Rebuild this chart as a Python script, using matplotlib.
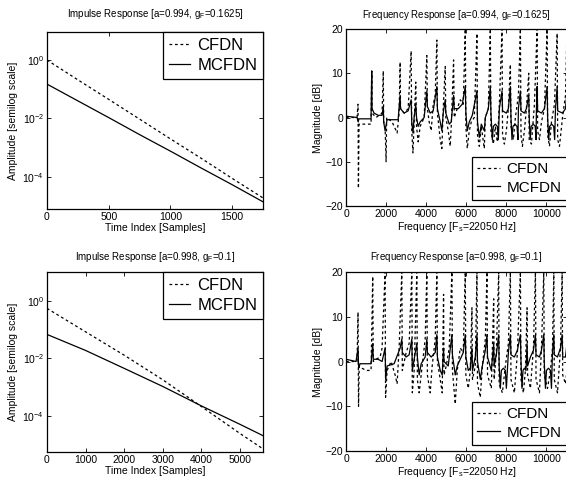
import matplotlib
matplotlib.use("Agg")
import matplotlib.pyplot as plt
from matplotlib.ticker import FixedLocator, NullLocator

plt.rcParams['font.family'] = ['Liberation Sans Narrow', 'Liberation Sans', 'DejaVu Sans']
plt.rcParams['mathtext.fontset'] = 'custom'
plt.rcParams['mathtext.rm'] = 'Liberation Sans'
plt.rcParams['mathtext.it'] = 'Liberation Sans'

# ---------------- data ----------------
# Impulse response, top (a=0.994, gF=0.1625)
t1 = [0, 250, 500, 750, 1000, 1250, 1500, 1750]
cfdn_ir1 = [1.0, 0.21, 0.045, 0.0095, 0.002, 0.00043, 0.000089, 0.000019]
mcfdn_ir1 = [0.15, 0.04, 0.0107, 0.0028, 0.00076, 0.0002, 0.000054, 0.000014]

# Impulse response, bottom (a=0.998, gF=0.1)
t2 = [0, 1000, 2000, 3000, 4000, 5000, 5600]
cfdn_ir2 = [0.56, 0.085, 0.013, 0.0018, 0.00021, 0.000024, 0.0000069]
mcfdn_ir2 = [0.069, 0.019, 0.0045, 0.00105, 0.00022, 0.00005, 0.00002]

# Frequency response, top: (frequency Hz, magnitude dB)
fr1_cfdn = [(0, 0), (550, 0), (600, 3), (620, -16), (650, -1.5), (1250, -1.5), (1283, 10.5),
            (1300, 1), (1500, 0), (1800, 1), (1860, 10.5), (1880, -1), (1950, -2), (2000, -10),
            (2030, 0), (2300, -1), (2450, -2.5), (2550, -3.5), (2650, 1), (2700, 12.5), (2720, 2),
            (2900, 1), (3100, 2), (3250, 15), (3280, -3), (3340, -8), (3400, -1), (3480, 8),
            (3520, -2), (3600, -5.5), (3700, -2), (3900, 0), (4033, 14), (4060, 2), (4150, -1),
            (4250, -3), (4350, 3), (4450, 5), (4533, 17.5), (4560, 1), (4700, -5), (4783, -7),
            (4850, 2), (4950, 11.5), (4980, 0), (5100, -3), (5200, -6.5), (5250, -2), (5367, 13),
            (5400, 0), (5550, 2), (5700, 4), (5850, 3), (5950, 20), (5980, -2), (6050, -7),
            (6150, -3), (6250, -1), (6400, 0), (6533, 19), (6560, -4), (6650, -6.5), (6750, -2),
            (6900, -7), (6950, 0), (7100, 2), (7200, 20), (7230, -3), (7350, -6), (7450, -2),
            (7550, -5.5), (7650, 3), (7783, 20), (7810, -4), (7900, -6), (8000, -3), (8100, 2),
            (8200, 12), (8230, -2), (8350, -5), (8450, 0), (8600, 5), (8700, 20), (8730, -4),
            (8800, -6.5), (8900, -3), (9000, 2), (9117, 10), (9140, -5), (9250, -6), (9400, 3),
            (9533, 20), (9560, -3), (9650, -5), (9750, -1), (9900, 2), (10033, 20), (10060, -4),
            (10150, -6.5), (10250, -1), (10400, 3), (10533, 19), (10560, -5), (10650, -6.5),
            (10800, 0), (10950, 5), (11025, 20)]
fr1_mcfdn = [(0, 0.3), (550, 0), (610, -1), (640, -0.3), (1250, -0.3), (1283, 10.5), (1300, 2),
             (1400, 1), (1600, 0.5), (1800, 0.5), (1860, 2.5), (1880, -1), (1950, -3), (2050, -0.5),
             (2600, -0.5), (2700, 5), (2720, 2), (2900, 1), (3100, 1.5), (3250, 4), (3280, -1),
             (3340, -3.5), (3400, 0), (3480, 3), (3520, 0), (3600, -2), (3700, -1), (3900, 0),
             (4033, 6), (4060, 2.5), (4200, 1), (4350, 1.5), (4533, 7), (4560, 2), (4700, -1),
             (4783, -3), (4850, 1), (4950, 4), (4980, 1), (5150, -1.5), (5250, -1), (5367, 5),
             (5400, 2), (5600, 2), (5800, 3), (5950, 7), (5980, 1), (6050, -3), (6150, -1),
             (6300, 0.5), (6533, 6), (6560, -1), (6650, -4.5), (6750, -1.5), (6900, -3), (6950, 0),
             (7100, 2), (7200, 7), (7230, 1), (7300, -5), (7350, -2), (7450, -1.5), (7550, -2),
             (7600, -5), (7650, 2), (7783, 6), (7810, 1.5), (8000, 1), (8100, 2), (8200, 7),
             (8230, 0), (8280, -5), (8330, -2), (8430, -1.5), (8530, -2), (8580, -5), (8600, 2),
             (8700, 6), (8730, 1.5), (8900, 1), (9000, 2), (9117, 5), (9140, 0), (9190, -5),
             (9240, -2), (9340, -1.5), (9440, -2), (9480, -5), (9500, 2), (9533, 7), (9560, 1.5),
             (9750, 1), (9900, 2), (10033, 7), (10060, 0), (10110, -5), (10160, -2), (10260, -1.5),
             (10360, -2), (10410, -5), (10450, 2), (10533, 7), (10560, 1.5), (10800, 1),
             (10950, 2), (11025, 6)]

# Frequency response, bottom: (frequency Hz, magnitude dB)
fr2_cfdn = [(0, 0), (550, 0), (600, 11), (625, -10), (660, -1), (800, -1.5), (1000, -2),
            (1250, -2), (1333, 19), (1360, 0), (1500, 0.5), (1700, 1), (1800, 3), (1950, 20),
            (1975, -8), (2050, -2), (2250, 0), (2450, -3), (2550, -5), (2650, 3), (2783, 20),
            (2810, -2), (3000, 2), (3150, 4), (3283, 20), (3310, -7), (3400, -2), (3533, 20),
            (3560, -4), (3650, -7), (3800, -1), (3950, 5), (4033, 20), (4060, -3), (4200, -7),
            (4300, -1), (4450, 5), (4533, 20), (4560, 0), (4700, -4), (4800, -7), (4867, 15),
            (4890, -3), (5000, -1), (5150, 3), (5283, 20), (5310, -2), (5450, -9.5), (5550, -2),
            (5700, 3), (5850, 2), (5950, 20), (5980, -3), (6100, -6), (6200, -2), (6283, 12),
            (6310, -4), (6450, -1), (6533, 20), (6560, -5), (6700, -8), (6800, -1), (6950, 5),
            (7033, 20), (7060, -3), (7250, -6), (7367, 14), (7390, -4), (7500, 2), (7617, 20),
            (7640, -5), (7800, -7), (7950, -1), (8100, 4), (8200, 20), (8230, -4), (8400, -7),
            (8550, 2), (8700, 20), (8730, -4), (8850, -7), (8950, -2), (9033, 12), (9060, -3),
            (9200, -6), (9350, 3), (9450, 20), (9480, -4), (9650, -7), (9750, 3), (9867, 20),
            (9890, -3), (10050, -6), (10200, -2), (10300, 3), (10367, 20), (10390, -4),
            (10550, -7), (10700, 3), (10783, 20), (10810, -3), (10950, -5), (11025, -2)]
fr2_mcfdn = [(0, 0.5), (500, 0), (600, 3), (630, -1.5), (700, -0.5), (1250, -0.5), (1333, 4),
             (1360, 0.5), (1600, 0.5), (1800, 0), (1950, 3), (1980, -4), (2050, -1), (2400, -0.5),
             (2700, 3), (2783, 5), (2810, 2), (3000, 1), (3150, 1.5), (3283, 5), (3310, -2),
             (3400, 0.5), (3533, 4), (3560, 1), (3650, -3), (3750, -0.5), (3950, 1), (4033, 5),
             (4060, 2), (4250, 1), (4450, 2), (4533, 6), (4560, 1), (4700, -2), (4800, -3),
             (4867, 3), (4890, 0), (5100, -1), (5283, 6), (5310, 1.5), (5450, -3), (5550, -1),
             (5850, 2), (5950, 6), (5980, 1), (6100, -2), (6200, -1.5), (6283, 3), (6310, -2),
             (6450, 1), (6533, 6), (6560, 0), (6700, -4), (6800, -1), (6950, 2.5), (7033, 6),
             (7060, 1), (7250, -2), (7367, 4), (7390, -1), (7500, 1.5), (7617, 6), (7640, -1),
             (7700, -6), (7750, -2), (7850, -1.5), (7950, -2), (8000, -6), (8100, 2), (8200, 6),
             (8230, 1.5), (8400, 1), (8550, 2.5), (8700, 6), (8730, 0), (8780, -6), (8830, -2),
             (8900, -1.5), (8980, -2), (9033, 4), (9060, -1), (9200, 1), (9350, 2.5), (9450, 6),
             (9480, 1.5), (9650, 1), (9750, 2.5), (9867, 6), (9890, 0), (9950, -6), (10000, -2),
             (10100, -1.5), (10200, -2), (10250, -6), (10300, 2), (10367, 6), (10390, 1.5),
             (10550, 1), (10700, 3), (10783, 6), (10810, 1), (10950, 1), (11025, 4)]

labels = ["CFDN", "MCFDN"]
log_ticks = [1e0, 1e-2, 1e-4]
freq_ticks = [0, 2000, 4000, 6000, 8000, 10000]
db_ticks = [-20, -10, 0, 10, 20]

# ---------------- figure ----------------
W, H = 566, 488
fig = plt.figure(figsize=(W / 100, H / 100), dpi=100)


def add_ax(l, r, t, b):
    return fig.add_axes([l / W, 1 - b / H, (r - l) / W, (b - t) / H])


ax_tl = add_ax(47, 263, 32, 209)
ax_tr = add_ax(346, 567, 29, 206)
ax_bl = add_ax(47, 263, 272, 452)
ax_br = add_ax(346, 567, 272, 451)

dash = (0, (2.2, 2.2))
lw = 0.9
tfs = 7.5
lfs = 7.5

for ax in (ax_tl, ax_tr, ax_bl, ax_br):
    ax.tick_params(direction='in', top=True, right=True, labelsize=tfs, length=3, width=0.6, pad=2)
    for s in ax.spines.values():
        s.set_linewidth(0.9)


def legend(ax, loc, anchor, fs, hl):
    lg = ax.legend(loc=loc, bbox_to_anchor=anchor, fontsize=fs, frameon=True, fancybox=False,
                   edgecolor='k', borderaxespad=0, handlelength=hl, borderpad=0.35,
                   labelspacing=0.3, handletextpad=0.45, framealpha=1)
    lg.get_frame().set_linewidth(0.9)


def unzip(pairs):
    return [p[0] for p in pairs], [p[1] for p in pairs]


# top-left impulse
ax_tl.semilogy(t1, cfdn_ir1, color='k', ls=dash, lw=lw, label=labels[0])
ax_tl.semilogy(t1, mcfdn_ir1, color='k', lw=lw, label=labels[1])
ax_tl.set_xlim(0, 1750)
ax_tl.set_ylim(10 ** -5.1, 10 ** 0.96)
ax_tl.set_xticks([0, 500, 1000, 1500])
ax_tl.yaxis.set_major_locator(FixedLocator(log_ticks))
ax_tl.yaxis.set_minor_locator(NullLocator())
ax_tl.set_title(r"Impulse Response [a=0.994, g$_F$=0.1625]", fontsize=7, pad=11)
ax_tl.set_xlabel("Time Index [Samples]", fontsize=lfs, labelpad=1)
ax_tl.set_ylabel("Amplitude [semilog scale]", fontsize=lfs, labelpad=3)
legend(ax_tl, 'upper right', (1, 1), 12, 1.25)

# bottom-left impulse
ax_bl.semilogy(t2, cfdn_ir2, color='k', ls=dash, lw=lw, label=labels[0])
ax_bl.semilogy(t2, mcfdn_ir2, color='k', lw=lw, label=labels[1])
ax_bl.set_xlim(0, 5600)
ax_bl.set_ylim(10 ** -5.27, 10 ** 1.02)
ax_bl.set_xticks([0, 1000, 2000, 3000, 4000, 5000])
ax_bl.yaxis.set_major_locator(FixedLocator(log_ticks))
ax_bl.yaxis.set_minor_locator(NullLocator())
ax_bl.set_title(r"Impulse Response [a=0.998, g$_F$=0.1]", fontsize=7, pad=9)
ax_bl.set_xlabel("Time Index [Samples]", fontsize=lfs, labelpad=1)
ax_bl.set_ylabel("Amplitude [semilog scale]", fontsize=lfs, labelpad=3)
legend(ax_bl, 'upper right', (1, 1), 12, 1.25)

# top-right frequency
x, y = unzip(fr1_cfdn)
ax_tr.plot(x, y, color='k', ls=dash, lw=lw, label=labels[0])
x, y = unzip(fr1_mcfdn)
ax_tr.plot(x, y, color='k', lw=lw, label=labels[1])
ax_tr.set_xlim(0, 11025)
ax_tr.set_ylim(-20, 20)
ax_tr.set_xticks(freq_ticks)
ax_tr.set_yticks(db_ticks)
ax_tr.set_title(r"Frequency Response [a=0.994, g$_F$=0.1625]", fontsize=7, pad=8)
ax_tr.set_xlabel(r"Frequency [F$_s$=22050 Hz]", fontsize=lfs, labelpad=1)
ax_tr.set_ylabel("Magnitude [dB]", fontsize=lfs, labelpad=2)
legend(ax_tr, 'lower right', (1, 6 / 177), 11, 1.5)

# bottom-right frequency
x, y = unzip(fr2_cfdn)
ax_br.plot(x, y, color='k', ls=dash, lw=lw, label=labels[0])
x, y = unzip(fr2_mcfdn)
ax_br.plot(x, y, color='k', lw=lw, label=labels[1])
ax_br.set_xlim(0, 11025)
ax_br.set_ylim(-20, 20)
ax_br.set_xticks(freq_ticks)
ax_br.set_yticks(db_ticks)
ax_br.set_title(r"Frequency Response [a=0.998, g$_F$=0.1]", fontsize=7, pad=9)
ax_br.set_xlabel(r"Frequency [F$_s$=22050 Hz]", fontsize=lfs, labelpad=1)
ax_br.set_ylabel("Magnitude [dB]", fontsize=lfs, labelpad=2)
legend(ax_br, 'lower right', (1, 6 / 179), 11, 1.5)

fig.savefig("out.png", dpi=100)
